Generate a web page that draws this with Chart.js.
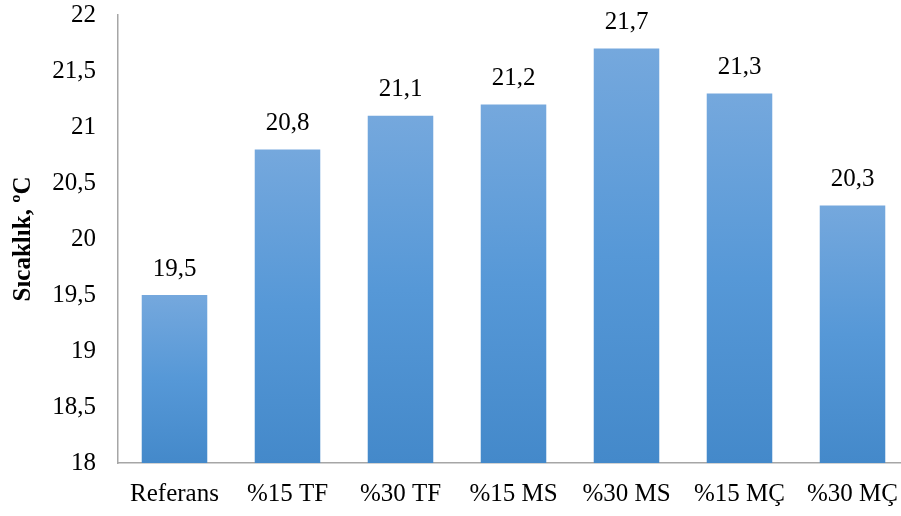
<!DOCTYPE html>
<html>
<head>
<meta charset="utf-8">
<script src="https://cdn.jsdelivr.net/npm/chart.js@4/dist/chart.umd.min.js"></script>
<style>
  html, body { margin: 0; padding: 0; background: #fff; overflow: hidden; }
  #wrap { width: 901px; height: 516px; overflow: hidden; position: relative; }
  #box { width: 909px; height: 516px; position: absolute; left: 0; top: 0; }
</style>
</head>
<body>
<div id="wrap"><div id="box"><canvas id="c"></canvas></div></div>
<script>
// Temperature per mix
const categories = ['Referans', '%15 TF', '%30 TF', '%15 MS', '%30 MS', '%15 MÇ', '%30 MÇ'];
const temperatures = [19.5, 20.8, 21.1, 21.2, 21.7, 21.3, 20.3];
const yTicks = [18, 18.5, 19, 19.5, 20, 20.5, 21, 21.5, 22];

const FONT = '"Liberation Serif", "Times New Roman", serif';
const fmt = v => String(v).replace('.', ',');

// Each bar gets its own vertical gradient: lighter at the top, deeper at the base
function barFill(ctx) {
  const chart = ctx.chart;
  const y = chart.scales && chart.scales.y;
  if (!y || !chart.chartArea || ctx.type !== 'data') return '#5b9bd5';
  const top = y.getPixelForValue(temperatures[ctx.dataIndex]);
  const bottom = y.getPixelForValue(y.min);
  if (!isFinite(top) || !isFinite(bottom) || top === bottom) return '#5b9bd5';
  const g = chart.ctx.createLinearGradient(0, top, 0, bottom);
  g.addColorStop(0, '#75a8dd');
  g.addColorStop(0.5, '#5698d7');
  g.addColorStop(1, '#4489ca');
  return g;
}

const valueLabels = {
  id: 'valueLabels',
  afterDatasetsDraw(chart) {
    const { ctx } = chart;
    const meta = chart.getDatasetMeta(0);
    ctx.save();
    ctx.font = '25px ' + FONT;
    ctx.fillStyle = '#000';
    ctx.textAlign = 'center';
    ctx.textBaseline = 'middle';
    meta.data.forEach((bar, i) => {
      ctx.fillText(fmt(temperatures[i]), bar.x, bar.y - 26);
    });
    ctx.restore();
  }
};

new Chart(document.getElementById('c'), {
  type: 'bar',
  data: {
    labels: categories,
    datasets: [{
      data: temperatures,
      backgroundColor: barFill,
      borderWidth: 0,
      categoryPercentage: 1,
      barPercentage: 0.58
    }]
  },
  options: {
    responsive: true,
    maintainAspectRatio: false,
    animation: false,
    layout: { padding: { top: 15, right: 0, left: 0, bottom: 0 } },
    plugins: { legend: { display: false }, tooltip: { enabled: false } },
    scales: {
      x: {
        grid: { display: false, drawTicks: false },
        border: { display: true, color: '#a6a6a6', width: 1.5 },
        ticks: { color: '#000', font: { family: FONT, size: 25 }, padding: 16, maxRotation: 0, autoSkip: false },
        afterFit: s => { s.height = 53; s.paddingLeft = 0; s.paddingRight = 0; }
      },
      y: {
        min: 18,
        max: 22,
        afterBuildTicks: s => { s.ticks = yTicks.map(v => ({ value: v })); },
        grid: { display: false, drawTicks: false },
        border: { display: true, color: '#a6a6a6', width: 1.5 },
        ticks: { color: '#000', font: { family: FONT, size: 25 }, padding: 22, callback: v => fmt(v) },
        title: {
          display: true,
          text: 'Sıcaklık, ºC',
          color: '#000',
          font: { family: FONT, size: 25, weight: 'bold' },
          padding: { top: 9, bottom: 0 }
        },
        afterFit: s => { s.width = 118; s.paddingTop = 0; s.paddingBottom = 0; }
      }
    }
  },
  plugins: [valueLabels]
});
</script>
</body>
</html>
